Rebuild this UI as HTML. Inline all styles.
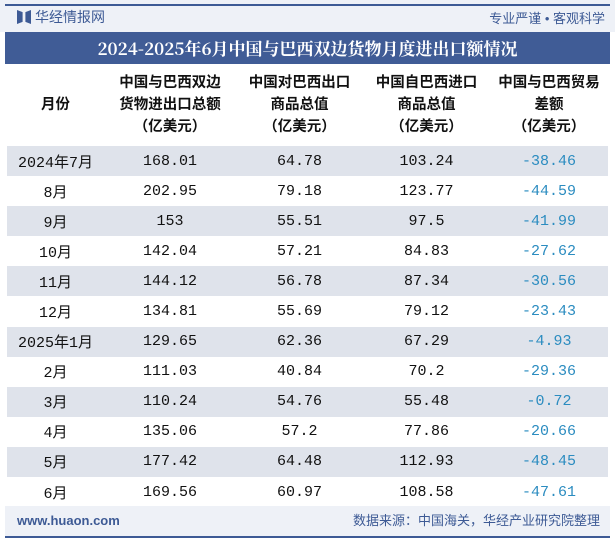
<!DOCTYPE html>
<html><head><meta charset="utf-8"><style>
body{margin:0;width:615px;height:540px;background:#fff;font-family:"Liberation Sans","Noto Sans CJK SC",sans-serif;position:relative;overflow:hidden}
.topbar{position:absolute;left:0;top:0;width:615px;height:32px;background:#eef1f7}
.line{position:absolute;left:5px;width:605px;height:2px;background:#3d5a95}
.title{position:absolute;left:5px;top:32px;width:519px;padding:0 43px;height:32px;background:#405c96;color:#fff;font-weight:bold;font-size:17px;line-height:32px;text-align:center;font-family:"Noto Serif CJK SC",serif}
table{position:absolute;left:7px;top:64px;width:601px;border-collapse:collapse}
th{height:80px;font-size:14.5px;font-weight:bold;line-height:22px;color:#111}
td{height:30.1px;padding:0;text-align:center;font-size:15px;font-family:"Liberation Mono","Noto Sans CJK SC",monospace;color:#111}
tr.s td{background:#dfe3eb}
td.n{color:#2b8cc0}
.foot{position:absolute;left:5px;top:506px;width:605px;height:30px;background:#eef1f7;font-size:13px;line-height:30px;color:#3d5a95}
</style></head><body>
<div class="topbar"></div>
<div class="line" style="top:4px"></div>
<div style="position:absolute;left:17px;top:10px;width:14px;height:14px;background:#3d5a95;clip-path:polygon(0 0,40% 15%,40% 85%,0 100%,0 0,100% 0,100% 100%,60% 85%,60% 15%,100% 0)"></div>
<div style="position:absolute;left:35px;top:7px;font-size:14px;color:#3d5a95">华经情报网</div>
<div style="position:absolute;right:10px;top:8px;font-size:13px;color:#3d5a95">专业严谨 • 客观科学</div>
<div class="title">2024-2025年6月中国与巴西双边货物月度进出口额情况</div>
<table>
<tr><th style="width:95px">月份</th><th style="width:130px">中国与巴西双边<br>货物进出口总额<br>（亿美元）</th><th style="width:125px">中国对巴西出口<br>商品总值<br>（亿美元）</th><th style="width:125px">中国自巴西进口<br>商品总值<br>（亿美元）</th><th>中国与巴西贸易<br>差额<br>（亿美元）</th></tr>
<tr class="s"><td>2024年7月</td><td>168.01</td><td>64.78</td><td>103.24</td><td class="n">-38.46</td></tr>
<tr><td>8月</td><td>202.95</td><td>79.18</td><td>123.77</td><td class="n">-44.59</td></tr>
<tr class="s"><td>9月</td><td>153</td><td>55.51</td><td>97.5</td><td class="n">-41.99</td></tr>
<tr><td>10月</td><td>142.04</td><td>57.21</td><td>84.83</td><td class="n">-27.62</td></tr>
<tr class="s"><td>11月</td><td>144.12</td><td>56.78</td><td>87.34</td><td class="n">-30.56</td></tr>
<tr><td>12月</td><td>134.81</td><td>55.69</td><td>79.12</td><td class="n">-23.43</td></tr>
<tr class="s"><td>2025年1月</td><td>129.65</td><td>62.36</td><td>67.29</td><td class="n">-4.93</td></tr>
<tr><td>2月</td><td>111.03</td><td>40.84</td><td>70.2</td><td class="n">-29.36</td></tr>
<tr class="s"><td>3月</td><td>110.24</td><td>54.76</td><td>55.48</td><td class="n">-0.72</td></tr>
<tr><td>4月</td><td>135.06</td><td>57.2</td><td>77.86</td><td class="n">-20.66</td></tr>
<tr class="s"><td>5月</td><td>177.42</td><td>64.48</td><td>112.93</td><td class="n">-48.45</td></tr>
<tr><td>6月</td><td>169.56</td><td>60.97</td><td>108.58</td><td class="n">-47.61</td></tr>
</table>
<div class="foot"><span style="position:absolute;left:12px;font-weight:bold">www.huaon.com</span><span style="position:absolute;right:10px">数据来源：中国海关，华经产业研究院整理</span></div>
<div class="line" style="top:536px"></div>
</body></html>
